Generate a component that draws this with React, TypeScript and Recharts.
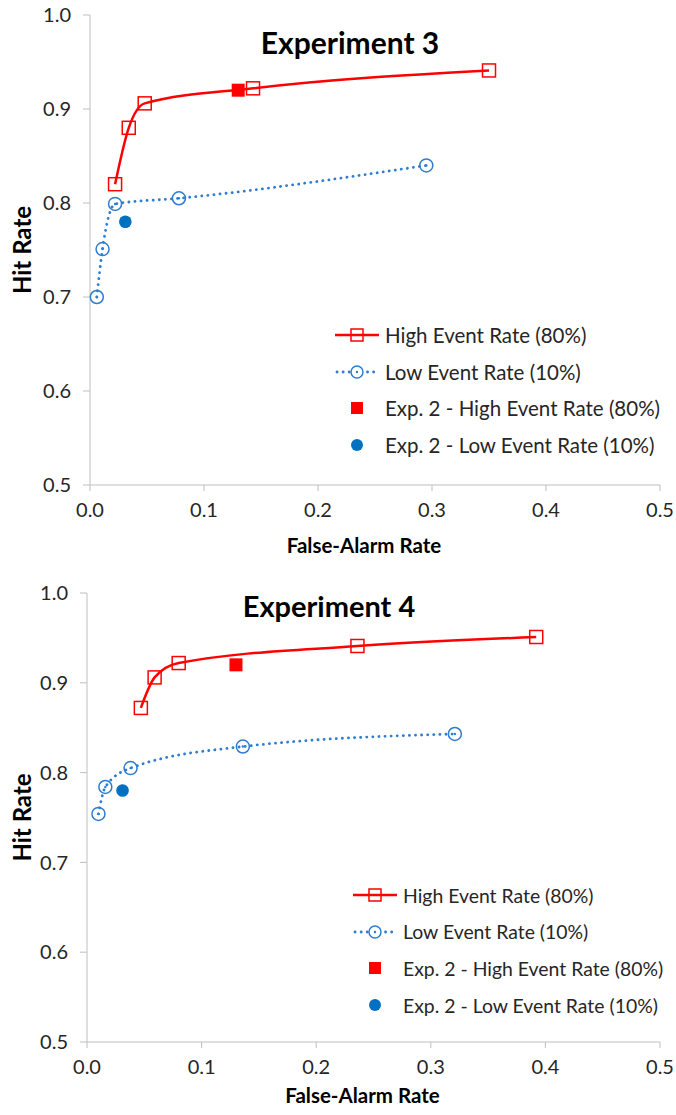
import React from 'react';
import { ScatterChart, Scatter, XAxis, YAxis, Legend } from 'recharts';

const RED = '#ff0000';
const BLUE = '#2e7dd1';
const BLUE_FILL = '#0070c0';
const AXIS = '#bfbfbf';
const TEXT = '#262626';
const FONT = 'Lato, "Open Sans", sans-serif';

const xTicks = [0, 0.1, 0.2, 0.3, 0.4, 0.5];
const yTicks = [0.5, 0.6, 0.7, 0.8, 0.9, 1.0];

// Experiment 3
const exp3HighFA = [0.022, 0.034, 0.048, 0.143, 0.35];
const exp3HighHit = [0.82, 0.88, 0.906, 0.922, 0.941];
const exp3LowFA = [0.006, 0.011, 0.022, 0.078, 0.295];
const exp3LowHit = [0.70, 0.751, 0.799, 0.805, 0.84];

// Experiment 4
const exp4HighFA = [0.047, 0.059, 0.080, 0.236, 0.392];
const exp4HighHit = [0.872, 0.906, 0.922, 0.941, 0.951];
const exp4LowFA = [0.010, 0.016, 0.038, 0.136, 0.321];
const exp4LowHit = [0.754, 0.784, 0.805, 0.829, 0.843];

// Experiment 2 reference points
const exp2HighFA = [0.13];
const exp2HighHit = [0.92];
const exp2LowFA = [0.031];
const exp2LowHit = [0.78];

const legendLabels = [
  'High Event Rate (80%)',
  'Low Event Rate (10%)',
  'Exp. 2 - High Event Rate (80%)',
  'Exp. 2 - Low Event Rate (10%)',
];

const toPoints = (xs: number[], ys: number[]) => xs.map((x, i) => ({ x, y: ys[i] }));

const OpenSquare = (props: any) => {
  const { cx, cy } = props;
  return <rect x={cx - 6.5} y={cy - 6.5} width={13} height={13} fill="none" stroke={RED} strokeWidth={1.5} />;
};

const OpenCircle = (props: any) => {
  const { cx, cy } = props;
  return (
    <g>
      <circle cx={cx} cy={cy} r={6.5} fill="none" stroke={BLUE} strokeWidth={1.5} />
      <circle cx={cx} cy={cy} r={1.2} fill={BLUE} />
    </g>
  );
};

const FilledSquare = (props: any) => {
  const { cx, cy } = props;
  return <rect x={cx - 6.5} y={cy - 6.5} width={13} height={13} fill={RED} />;
};

const FilledCircle = (props: any) => {
  const { cx, cy } = props;
  return <circle cx={cx} cy={cy} r={6.3} fill={BLUE_FILL} />;
};

const LegendIcon = ({ index }: { index: number }) => (
  <svg width={44} height={20} style={{ display: 'block' }}>
    {index === 0 && <line x1={0} y1={10} x2={44} y2={10} stroke={RED} strokeWidth={2.5} />}
    {index === 0 && <rect x={16} y={4} width={12} height={12} fill="none" stroke={RED} strokeWidth={1.5} />}
    {index === 1 && (
      <line x1={2} y1={10} x2={44} y2={10} stroke={BLUE} strokeWidth={2.8} strokeDasharray="0.1 6" strokeLinecap="round" />
    )}
    {index === 1 && <circle cx={22} cy={10} r={6} fill="#fff" stroke={BLUE} strokeWidth={1.5} />}
    {index === 1 && <circle cx={22} cy={10} r={1.2} fill={BLUE} />}
    {index === 2 && <rect x={16} y={4} width={12} height={12} fill={RED} />}
    {index === 3 && <circle cx={22} cy={10} r={6} fill={BLUE_FILL} />}
  </svg>
);

const LegendBox = ({ fontSize }: { fontSize: number }) => (
  <div style={{ fontFamily: FONT, fontSize, color: TEXT }}>
    {legendLabels.map((label, i) => (
      <div key={label} style={{ display: 'flex', alignItems: 'center', height: 36.6, whiteSpace: 'nowrap' }}>
        <LegendIcon index={i} />
        <span style={{ marginLeft: 6 }}>{label}</span>
      </div>
    ))}
  </div>
);

interface PanelProps {
  title: string;
  titleSize: number;
  legendSize: number;
  top: number;
  height: number;
  marginTop: number;
  yAxisWidth: number;
  xAxisHeight: number;
  titleX: number;
  titleY: number;
  legendTop: number;
  legendLeft: number;
  high: { x: number; y: number }[];
  low: { x: number; y: number }[];
}

const Panel = (p: PanelProps) => (
  <div style={{ position: 'absolute', top: p.top, left: 0, width: 676, height: p.height }}>
    <ScatterChart width={676} height={p.height} margin={{ top: p.marginTop, right: 16, left: 0, bottom: 0 }}>
      <XAxis
        type="number"
        dataKey="x"
        domain={[0, 0.5]}
        ticks={xTicks}
        tickFormatter={(v: number) => v.toFixed(1)}
        stroke={AXIS}
        tickSize={6}
        tickMargin={12}
        height={p.xAxisHeight}
        tick={{ fill: TEXT, fontSize: 20, fontFamily: FONT }}
        label={{
          content: ({ viewBox }: any) => (
            <text
              x={viewBox.x + viewBox.width / 2 - 11}
              y={viewBox.y + viewBox.height - 12}
              textAnchor="middle"
              fontFamily={FONT}
              fontWeight="bold"
              fontSize={20.5}
              fill="#000"
            >
              False-Alarm Rate
            </text>
          ),
        }}
      />
      <YAxis
        type="number"
        dataKey="y"
        domain={[0.5, 1.0]}
        ticks={yTicks}
        tickFormatter={(v: number) => v.toFixed(1)}
        stroke={AXIS}
        tickSize={7}
        tickMargin={12}
        width={p.yAxisWidth}
        tick={{ fill: TEXT, fontSize: 20, fontFamily: FONT }}
        label={{
          content: ({ viewBox }: any) => {
            const cx = 21;
            const cy = viewBox.y + viewBox.height / 2;
            return (
              <text
                x={cx}
                y={cy}
                transform={`rotate(-90 ${cx} ${cy})`}
                textAnchor="middle"
                dominantBaseline="central"
                fontFamily={FONT}
                fontWeight="bold"
                fontSize={24}
                fill="#000"
              >
                Hit Rate
              </text>
            );
          },
        }}
      />
      <Legend
        layout="vertical"
        align="center"
        verticalAlign="middle"
        content={() => <LegendBox fontSize={p.legendSize} />}
        wrapperStyle={{ top: p.legendTop, left: p.legendLeft, width: 330 }}
      />
      <Scatter
        name="High Event Rate (80%)"
        data={p.high}
        line={{ stroke: RED, strokeWidth: 2.5 }}
        lineJointType="monotoneX"
        shape={OpenSquare}
        isAnimationActive={false}
      />
      <Scatter
        name="Low Event Rate (10%)"
        data={p.low}
        line={{ stroke: BLUE, strokeWidth: 2.8, strokeDasharray: '0.1 6', strokeLinecap: 'round' }}
        lineJointType="monotoneX"
        shape={OpenCircle}
        isAnimationActive={false}
      />
      <Scatter
        name="Exp. 2 - High Event Rate (80%)"
        data={toPoints(exp2HighFA, exp2HighHit)}
        shape={FilledSquare}
        isAnimationActive={false}
      />
      <Scatter
        name="Exp. 2 - Low Event Rate (10%)"
        data={toPoints(exp2LowFA, exp2LowHit)}
        shape={FilledCircle}
        isAnimationActive={false}
      />
    </ScatterChart>
    <div
      style={{
        position: 'absolute',
        left: p.titleX - 150,
        top: p.titleY - 20,
        width: 300,
        height: 40,
        lineHeight: '40px',
        textAlign: 'center',
        fontFamily: FONT,
        fontWeight: 'bold',
        fontSize: p.titleSize,
        color: '#000',
      }}
    >
      {p.title}
    </div>
  </div>
);

export default function App() {
  return (
    <div style={{ position: 'absolute', top: 0, left: 0, width: 676, height: 1115, background: '#fff' }}>
      <Panel
        title="Experiment 3"
        titleSize={30}
        legendSize={20.5}
        top={0}
        height={565}
        marginTop={15}
        yAxisWidth={90}
        xAxisHeight={80}
        titleX={350}
        titleY={42}
        legendTop={317}
        legendLeft={335}
        high={toPoints(exp3HighFA, exp3HighHit)}
        low={toPoints(exp3LowFA, exp3LowHit)}
      />
      <Panel
        title="Experiment 4"
        titleSize={29}
        legendSize={19.4}
        top={565}
        height={550}
        marginTop={28}
        yAxisWidth={87}
        xAxisHeight={73}
        titleX={329}
        titleY={41}
        legendTop={312}
        legendLeft={353}
        high={toPoints(exp4HighFA, exp4HighHit)}
        low={toPoints(exp4LowFA, exp4LowHit)}
      />
    </div>
  );
}
